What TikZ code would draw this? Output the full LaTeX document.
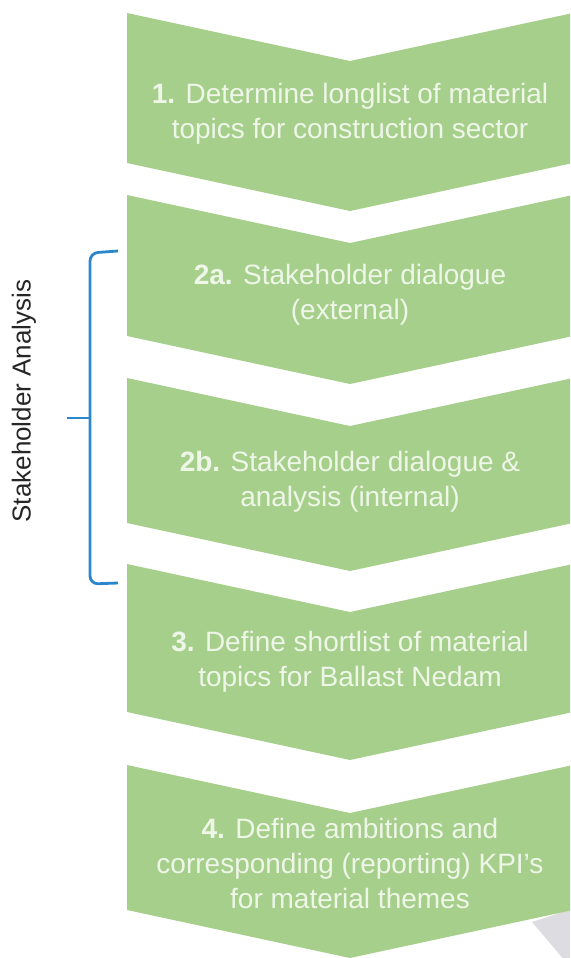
\documentclass[tikz,border=0pt]{standalone}
\usepackage{fontspec}
\setmainfont{Liberation Sans}
\definecolor{chevgreen}{HTML}{A7CF8C}
\definecolor{chevtext}{HTML}{EEF6E8}
\definecolor{braceblue}{HTML}{2A87CB}
\definecolor{shadowgray}{HTML}{DCDCE1}
\begin{document}
\begin{tikzpicture}[x=0.5pt,y=-0.5pt,
  chev/.style={fill=chevgreen},
  steptext/.style={text=chevtext, align=center, font=\fontsize{14}{17.5}\selectfont, inner sep=0pt},
  bracestyle/.style={draw=braceblue, line width=1.4pt, rounded corners=4pt},
  sidelabel/.style={font=\fontsize{13}{15}\selectfont, text=black!85, rotate=90, inner sep=0pt}]
\useasboundingbox (0,0) rectangle (570,958);
\clip (0,0) rectangle (570,958);
\fill[shadowgray] (532,922) -- (575,908) -- (575,962) -- (566,962) -- cycle;
\foreach \t/\b in {13/163,195/336,378/523,564/712,765/910}
  \fill[chev] (127,\t) -- (350,\t+48) -- (573,\t) -- (573,\b) -- (350,\b+48) -- (127,\b) -- cycle;
\node[steptext] (s1) at (350,114) {\textbf{1.} Determine longlist of material\\topics for construction sector};
\node[steptext] (s2a) at (350,295) {\textbf{2a.} Stakeholder dialogue\\(external)};
\node[steptext] (s2b) at (350,482) {\textbf{2b.} Stakeholder dialogue \&\\analysis (internal)};
\node[steptext] (s3) at (350,662) {\textbf{3.} Define shortlist of material\\topics for Ballast Nedam};
\node[steptext] (s4) at (350,863) {\textbf{4.} Define ambitions and\\corresponding (reporting) KPI’s\\for material themes};
\node[sidelabel] (lab) at (24,401) {Stakeholder Analysis};
\coordinate (bt) at (118,251);
\coordinate (bb) at (118,583);
\coordinate (bm) at (67,418);
\coordinate (bj) at (90,418);
\draw[bracestyle] (bt) -- (90,253) -- (90,584) -- (bb);
\draw[draw=braceblue, line width=1.4pt] (bm) -- (bj);
\end{tikzpicture}
\end{document}
